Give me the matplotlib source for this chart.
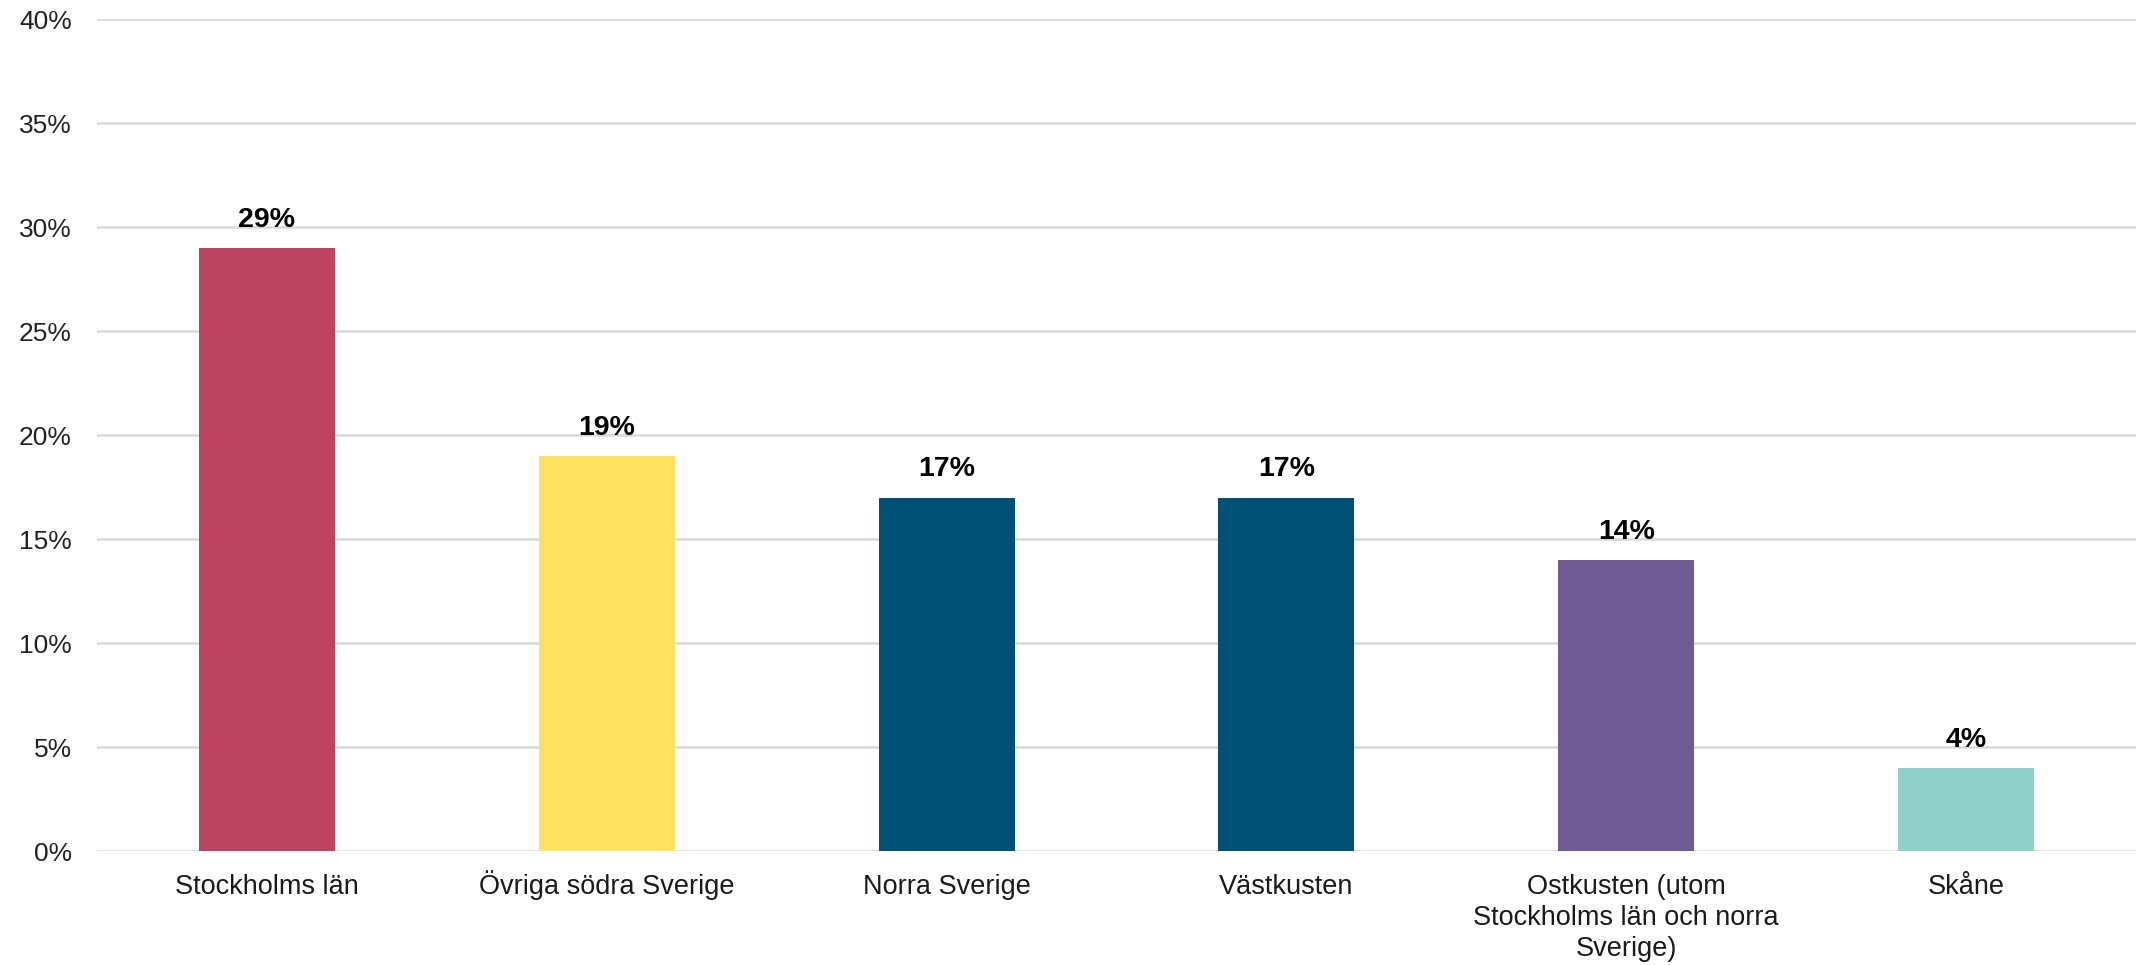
import numpy as np
import matplotlib.pyplot as plt
from matplotlib.ticker import PercentFormatter

regions = ['Stockholms län', 'Övriga södra Sverige', 'Norra Sverige', 'Västkusten',
           'Ostkusten (utom\nStockholms län och norra\nSverige)', 'Skåne']
shares = [29, 19, 17, 17, 14, 4]
colors = ['#BC4563', '#FFE060', '#005073', '#005073', '#6E5A94', '#91D0C8']

plt.rcParams['font.family'] = ['Liberation Sans', 'DejaVu Sans']

fig = plt.figure(figsize=(21.36, 9.65), dpi=100)
ax = fig.add_axes([0.0454, 0.118, 0.9546, 0.862])

x = np.arange(len(regions))
ax.bar(x, shares, width=0.40, color=colors, zorder=3)

# value labels above bars
for xi, v in zip(x, shares):
    ax.annotate(f'{v}%', (xi, v), xytext=(0, 11), textcoords='offset points',
                ha='center', va='bottom', fontsize=20.5, fontweight='bold', zorder=4)

ax.set_ylim(0, 40)
ax.set_xlim(-0.5, len(regions) - 0.5)
ax.set_yticks(np.arange(0, 41, 5))
ax.yaxis.set_major_formatter(PercentFormatter(decimals=0))
ax.grid(axis='y', color='#D9D9D9', linewidth=1.8, zorder=0)
ax.set_axisbelow(True)

# category labels, one line at a time so every first line shares a baseline
ax.set_xticks(x)
ax.set_xticklabels([])
for xi, name in zip(x, regions):
    for j, line in enumerate(name.split('\n')):
        ax.annotate(line, (xi, 0), xytext=(0, -31 - j * 22.3), textcoords='offset points',
                    ha='center', va='baseline', fontsize=19.5, color='#1a1a1a',
                    annotation_clip=False)
ax.tick_params(axis='x', length=0)
ax.tick_params(axis='y', length=0, pad=18, labelsize=19, labelcolor='#222222')

for s in ax.spines.values():
    s.set_visible(False)

fig.savefig('out.png', dpi=100)
